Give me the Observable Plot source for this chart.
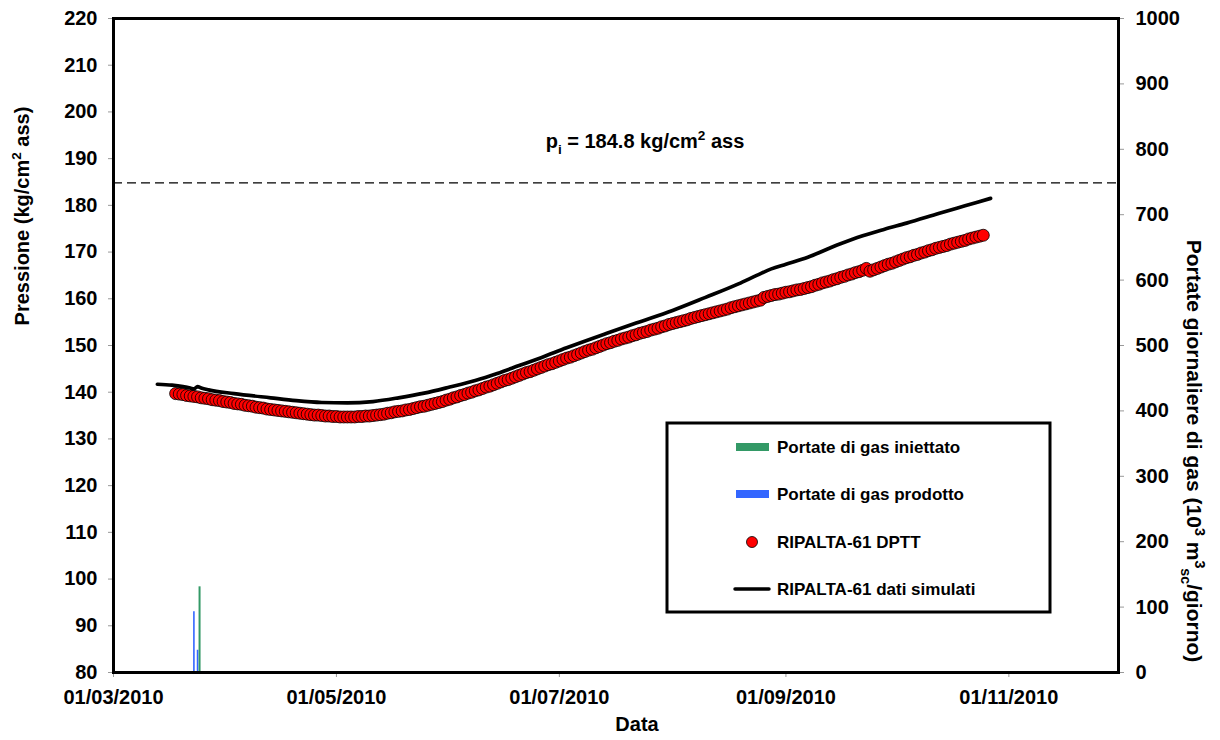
<!DOCTYPE html>
<html>
<head>
<meta charset="utf-8">
<script src="https://cdn.jsdelivr.net/npm/d3@7"></script>
<script src="https://cdn.jsdelivr.net/npm/@observablehq/plot@0.6"></script>
<style>
  html, body { margin: 0; padding: 0; background: #fff; }
  svg { display: block; }
</style>
</head>
<body>
<script>
// ---------------- DATA ----------------
// x-axis tick dates and y-axis tick values
const xTickDates = ["2010-03-01", "2010-05-01", "2010-07-01", "2010-09-01", "2010-11-01"];
const xDomain = ["2010-03-01", "2010-12-01"];
const yLeftTicks = [80, 90, 100, 110, 120, 130, 140, 150, 160, 170, 180, 190, 200, 210, 220];
const yRightTicks = [0, 100, 200, 300, 400, 500, 600, 700, 800, 900, 1000];

// initial pressure
const pInitial = 184.8;

// RIPALTA-61 DPTT: daily values starting 18/03/2010 (kg/cm2 ass)
const dpttStart = "2010-03-18";
const dpttValues = [
  139.7, 139.6, 139.5, 139.3, 139.2, 139.1, 139.0, 138.8, 138.7,
  138.6, 138.4, 138.3, 138.2, 138.0, 137.9, 137.8, 137.6, 137.5, 137.4, 137.2, 137.1, 137.0, 136.8, 136.7, 136.6, 136.4, 136.3,
  136.2, 136.1, 136.0, 135.9, 135.8, 135.7, 135.6, 135.5, 135.4, 135.3, 135.2, 135.1, 135.1, 135.0,
  134.9, 134.9, 134.8, 134.8, 134.7, 134.7, 134.7, 134.7, 134.7, 134.8, 134.8, 134.9, 134.9, 135.0,
  135.1, 135.2, 135.3, 135.5, 135.6, 135.8, 135.9,
  136.0, 136.2, 136.3, 136.5, 136.7, 136.9, 137.0, 137.2, 137.4, 137.6, 137.8, 138.0, 138.3, 138.5,
  138.8, 139.0, 139.3, 139.5, 139.8, 140.0, 140.3, 140.5, 140.8, 141.1, 141.3, 141.6, 141.9,
  142.2, 142.5, 142.7, 143.0, 143.3, 143.6, 143.9, 144.2, 144.4, 144.7, 145.0, 145.3,
  145.6, 145.9, 146.1, 146.4, 146.7, 147.0, 147.3, 147.5, 147.8, 148.1, 148.4, 148.7, 149.0, 149.2, 149.5, 149.8, 150.1, 150.4,
  150.6, 150.9, 151.1, 151.4, 151.6, 151.8, 152.1, 152.3, 152.6, 152.8, 153.0, 153.3, 153.5, 153.7, 154.0, 154.2, 154.5, 154.7,
  154.9, 155.1, 155.3, 155.5, 155.8, 156.0, 156.2, 156.4, 156.6, 156.8, 157.0, 157.2, 157.4, 157.6, 157.8, 158.1, 158.3, 158.5,
  158.7, 158.9, 159.1, 159.3, 159.5, 159.7,
  160.3, 160.5, 160.7,
  160.9, 161.0, 161.2, 161.4, 161.5, 161.7, 161.9, 162.0, 162.2, 162.4,
  162.6, 162.9, 163.1, 163.4, 163.6, 163.8, 164.1, 164.3, 164.6, 164.8, 165.1, 165.3, 165.6, 165.8,
  166.1, 166.5, 165.9,
  166.2, 166.5, 166.8, 167.1, 167.4, 167.6, 167.9, 168.2, 168.5, 168.8,
  169.0, 169.3, 169.5, 169.8, 170.0, 170.3, 170.5, 170.8, 171.0,
  171.2, 171.4, 171.7, 171.9, 172.1, 172.3, 172.5, 172.8, 173.0, 173.2, 173.4, 173.6
];

// RIPALTA-61 dati simulati
const simDates = [
  "2010-03-13", "2010-03-17", "2010-03-20", "2010-03-22", "2010-03-23", "2010-03-24", "2010-03-25", "2010-03-27",
  "2010-04-03", "2010-04-13", "2010-04-20", "2010-04-27", "2010-05-04", "2010-05-11", "2010-05-18", "2010-05-25",
  "2010-06-01", "2010-06-08", "2010-06-14", "2010-06-20", "2010-06-26", "2010-07-03", "2010-07-14", "2010-07-22",
  "2010-08-01", "2010-08-10", "2010-08-19", "2010-08-24", "2010-08-28", "2010-09-01", "2010-09-07", "2010-09-15",
  "2010-09-22", "2010-09-28", "2010-10-04", "2010-10-13", "2010-10-20", "2010-10-27"
];
const simValues = [
  141.7, 141.5, 141.2, 140.9, 140.7, 141.2, 140.9, 140.5,
  139.7, 138.8, 138.2, 137.8, 137.7, 138.0, 138.8, 139.8,
  141.1, 142.5, 144.0, 145.7, 147.4, 149.5, 152.6, 154.8,
  157.5, 160.3, 163.2, 165.0, 166.4, 167.4, 168.9, 171.5,
  173.5, 174.9, 176.2, 178.3, 179.9, 181.5
];

// daily gas rates (10^3 m3sc/giorno) on the right axis
const prodDates = ["2010-03-23", "2010-03-24"];
const prodValues = [93, 34];
const injDates = ["2010-03-24"];
const injValues = [131];

// ---------------- BUILD ----------------
const parse = d3.utcParse("%Y-%m-%d");
const dptt = dpttValues.map((v, i) => ({date: d3.utcDay.offset(parse(dpttStart), i), value: v}));
const sim = simDates.map((d, i) => ({date: parse(d), value: simValues[i]}));
const prod = prodDates.map((d, i) => ({date: parse(d), value: prodValues[i]}));
const inj = injDates.map((d, i) => ({date: parse(d), value: injValues[i]}));

// right axis (gas rates) mapped onto the left pressure scale
const right2left = d3.scaleLinear([yRightTicks[0], yRightTicks[yRightTicks.length - 1]],
                                  [yLeftTicks[0], yLeftTicks[yLeftTicks.length - 1]]);

const GREEN = "#339966", BLUE = "#3366FF";
const FONT = "'Liberation Sans', Arial, Helvetica, sans-serif";

const chart = Plot.plot({
  width: 1220,
  height: 740,
  marginLeft: 113,
  marginRight: 102,
  marginTop: 18,
  marginBottom: 68,
  style: {fontFamily: FONT, fontWeight: "bold", fontSize: "20px", color: "#000", background: "#fff", overflow: "visible"},
  x: {type: "utc", domain: xDomain.map(parse)},
  y: {domain: [yLeftTicks[0], yLeftTicks[yLeftTicks.length - 1]]},
  marks: [
    Plot.axisX(xTickDates.map(parse), {
      tickFormat: d3.utcFormat("%d/%m/%Y"), tickSize: 5, tickPadding: 12,
      stroke: "#999", fill: "#000", label: null
    }),
    Plot.axisY(yLeftTicks, {
      anchor: "left", tickSize: 5, tickPadding: 11, stroke: "#999", fill: "#000", label: null
    }),
    Plot.axisY(yRightTicks, {
      anchor: "right", y: right2left, tickFormat: d => String(d),
      tickSize: 5, tickPadding: 12, stroke: "#999", fill: "#000", label: null
    }),
    Plot.ruleY([pInitial], {stroke: "#000", strokeWidth: 1.2, strokeDasharray: "9,5"}),
    Plot.ruleX(prod, {x: "date", y1: yLeftTicks[0], y2: d => right2left(d.value), stroke: BLUE, strokeWidth: 1.6}),
    Plot.ruleX(inj, {x: "date", y1: yLeftTicks[0], y2: d => right2left(d.value), stroke: GREEN, strokeWidth: 2, dx: 2}),
    Plot.dot(dptt, {x: "date", y: "value", r: 6, fill: "#FF0000", stroke: "#000", strokeWidth: 0.8}),
    Plot.line(sim, {x: "date", y: "value", stroke: "#000", strokeWidth: 3.7, curve: "monotone-x"}),
    Plot.frame({stroke: "#000", strokeWidth: 3})
  ]
});
document.body.appendChild(chart);

// ---------------- TEXT WITH SUB/SUPERSCRIPTS, LEGEND ----------------
const svg = d3.select(chart);

function richText(sel, parts, size) {
  let shift = 0;
  for (const p of parts) {
    const target = p.sup ? -0.4 * size : p.sub ? 0.3 * size : 0;
    const t = sel.append("tspan").text(p.t);
    if (target !== shift) t.attr("dy", target - shift);
    shift = target;
    if (p.sup || p.sub) t.attr("font-size", size * 0.68);
  }
  return sel;
}

function label(x, y, rotate, size, parts, anchor = "middle") {
  const g = svg.append("text")
    .attr("transform", `translate(${x},${y})` + (rotate ? ` rotate(${rotate})` : ""))
    .attr("text-anchor", anchor)
    .attr("font-family", FONT)
    .attr("font-weight", "bold")
    .attr("font-size", size)
    .attr("fill", "#000");
  return richText(g, parts, size);
}

// axis titles
label(29, 216, -90, 20, [{t: "Pressione (kg/cm"}, {t: "2", sup: true}, {t: " ass)"}]);
label(1187, 451, 90, 21, [{t: "Portate giornaliere di gas (10"}, {t: "3", sup: true}, {t: " m"}, {t: "3", sup: true},
  {t: "sc", sub: true}, {t: "/giorno)"}]);
label(637, 731, 0, 20, [{t: "Data"}]);

// initial pressure annotation
label(645, 148, 0, 20, [{t: "p"}, {t: "i", sub: true}, {t: " = 184.8 kg/cm"}, {t: "2", sup: true}, {t: " ass"}]);

// legend
const lg = svg.append("g");
lg.append("rect").attr("x", 667).attr("y", 423).attr("width", 383).attr("height", 189)
  .attr("fill", "#fff").attr("stroke", "#000").attr("stroke-width", 3);
const items = [
  {label: "Portate di gas iniettato", kind: "bar", color: GREEN, y: 447},
  {label: "Portate di gas prodotto", kind: "bar", color: BLUE, y: 494},
  {label: "RIPALTA-61 DPTT", kind: "dot", y: 542},
  {label: "RIPALTA-61 dati simulati", kind: "line", y: 589}
];
for (const it of items) {
  if (it.kind === "bar") {
    lg.append("rect").attr("x", 736).attr("y", it.y - 4).attr("width", 33).attr("height", 8).attr("fill", it.color);
  } else if (it.kind === "dot") {
    lg.append("circle").attr("cx", 752).attr("cy", it.y).attr("r", 5.5)
      .attr("fill", "#FF0000").attr("stroke", "#000").attr("stroke-width", 0.8);
  } else {
    lg.append("line").attr("x1", 735).attr("x2", 769).attr("y1", it.y).attr("y2", it.y)
      .attr("stroke", "#000").attr("stroke-width", 3.5).attr("stroke-linecap", "round");
  }
  lg.append("text").attr("x", 777).attr("y", it.y + 6)
    .attr("text-anchor", "start")
    .attr("font-family", FONT).attr("font-weight", "bold").attr("font-size", 17).attr("fill", "#000")
    .text(it.label);
}
</script>
</body>
</html>
